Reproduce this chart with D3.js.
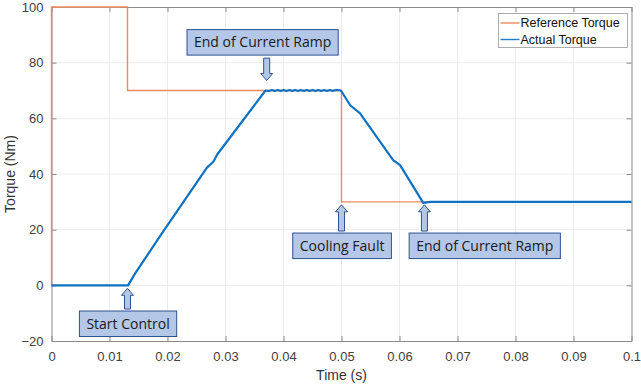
<!DOCTYPE html>
<html>
<head>
<meta charset="utf-8">
<script src="https://cdn.jsdelivr.net/npm/d3@7"></script>
<style>
  body { margin: 0; background: #fff; }
  svg { display: block; }
  .tick text { font-family: "Liberation Sans", Arial, sans-serif; font-size: 13px; fill: #404040; }
  .note text { font-family: "Open Sans", sans-serif; font-size: 14px; fill: #1a1a1a; }
</style>
</head>
<body>
<svg id="chart" width="641" height="390"></svg>
<script>
// reference torque (step changes)
const refTime   = [0, 0, 0.0131, 0.0131, 0.05, 0.05, 0.1];
const refTorque = [0, 100, 100, 70, 70, 30, 30];

const actTime   = [0, 0.0132, 0.0144, 0.0193, 0.0268, 0.0279, 0.0286, 0.0369,
                   0.0375, 0.038, 0.0385, 0.039, 0.0395, 0.040, 0.0405, 0.041, 0.0415, 0.042, 0.0425, 0.043,
                   0.0435, 0.044, 0.0445, 0.045, 0.0455, 0.046, 0.0465, 0.047, 0.0475, 0.048, 0.0485, 0.049, 0.0499,
                   0.0515, 0.0532, 0.0589, 0.0601, 0.0641, 0.0653, 0.08, 0.1];
const actTorque = [0, 0, 4.2, 19.5, 42.3, 44.4, 47.1, 70,
                   69.8, 70.2, 69.8, 70.2, 69.8, 70.2, 69.8, 70.2, 69.8, 70.2, 69.8, 70.2,
                   69.8, 70.2, 69.8, 70.2, 69.8, 70.2, 69.8, 70.2, 69.8, 70.2, 69.8, 70.2, 70,
                   64.7, 61.8, 45, 43.2, 29.6, 30, 30, 30];

const xTicks = [0, 0.01, 0.02, 0.03, 0.04, 0.05, 0.06, 0.07, 0.08, 0.09, 0.1];
const yTicks = [-20, 0, 20, 40, 60, 80, 100];

// annotation callouts: label, arrow anchor (data), box centre (data)
const notes = [
  { label: "End of Current Ramp", t: 0.0371, v: 70, bt: 0.0364, bv: 87.3, dir: "down" },
  { label: "Start Control",       t: 0.0131, v: 0,  bt: 0.0132, bv: -13.8, dir: "up" },
  { label: "Cooling Fault",       t: 0.05,   v: 30, bt: 0.0501, bv: 14.2, dir: "up" },
  { label: "End of Current Ramp", t: 0.0643, v: 30, bt: 0.0747, bv: 14.2, dir: "up" }
];

const svg = d3.select('#chart');
const margin = { top: 7, right: 9.5, bottom: 49, left: 51.5 };
const width = 641 - margin.left - margin.right;
const height = 390 - margin.top - margin.bottom;

const g = svg.append('g').attr('transform', `translate(${margin.left},${margin.top})`);

const x = d3.scaleLinear().domain([0, 0.1]).range([0, width]);
const y = d3.scaleLinear().domain([-20, 100]).range([height, 0]);

// grid
g.append('g').selectAll('line').data(xTicks.slice(1, -1)).join('line')
    .attr('x1', d => x(d)).attr('x2', d => x(d))
    .attr('y1', 0).attr('y2', height)
    .attr('stroke', '#ececec').attr('stroke-width', 1);
g.append('g').selectAll('line').data(yTicks.slice(1, -1)).join('line')
    .attr('x1', 0).attr('x2', width)
    .attr('y1', d => y(d)).attr('y2', d => y(d))
    .attr('stroke', '#ececec').attr('stroke-width', 1);

// axes (inward ticks, box on)
const axisColor = '#8a8a8a';
const xAxis = g.append('g').attr('transform', `translate(0,${height})`)
    .call(d3.axisBottom(x).tickValues(xTicks).tickSizeInner(-5).tickSizeOuter(0).tickPadding(13)
      .tickFormat(d => d === 0 ? '0' : d3.format('.2~f')(d)));
const yAxis = g.append('g')
    .call(d3.axisLeft(y).tickValues(yTicks).tickSizeInner(-5).tickSizeOuter(0).tickPadding(8));
g.append('g').call(d3.axisTop(x).tickValues(xTicks).tickSizeInner(-5).tickSizeOuter(0).tickFormat(''));
g.append('g').attr('transform', `translate(${width},0)`)
    .call(d3.axisRight(y).tickValues(yTicks).tickSizeInner(-5).tickSizeOuter(0).tickFormat(''));
g.selectAll('.domain, .tick line').attr('stroke', axisColor);
xAxis.selectAll('.tick text').attr('dy', '0.5em');

// axis titles
g.append('text')
    .attr('x', width / 2).attr('y', height + 39)
    .attr('text-anchor', 'middle')
    .style('font-family', '"Liberation Sans", Arial, sans-serif').style('font-size', '14px').style('fill', '#333')
    .text('Time (s)');
g.append('text')
    .attr('transform', `translate(-37,${height / 2}) rotate(-90)`)
    .attr('text-anchor', 'middle')
    .style('font-family', '"Liberation Sans", Arial, sans-serif').style('font-size', '14px').style('fill', '#333')
    .text('Torque (Nm)');

// series
const line = d3.line().x(d => x(d[0])).y(d => y(d[1]));
const refData = refTime.map((t, i) => [t, refTorque[i]]);
const actData = actTime.map((t, i) => [t, actTorque[i]]);

g.append('path').datum(refData)
    .attr('d', line).attr('fill', 'none')
    .attr('stroke', '#EE8A5E').attr('stroke-width', 1.4);
g.append('path').datum(actData)
    .attr('d', line).attr('fill', 'none')
    .attr('stroke', '#0F72C0').attr('stroke-width', 2.2).attr('stroke-linejoin', 'round');

// legend
const leg = g.append('g').attr('transform', `translate(${width - 133},6.5)`);
leg.append('rect').attr('width', 129).attr('height', 34)
    .attr('fill', '#fff').attr('stroke', '#9a9a9a').attr('stroke-width', 0.8);
[['Reference Torque', '#EE8A5E'], ['Actual Torque', '#1f7fd0']].forEach((d, i) => {
  const yy = 9.5 + i * 16.5;
  leg.append('line').attr('x1', 2).attr('x2', 21).attr('y1', yy).attr('y2', yy)
      .attr('stroke', d[1]).attr('stroke-width', 1.4);
  leg.append('text').attr('x', 22).attr('y', yy).attr('dy', '0.35em')
      .style('font-family', '"Liberation Sans", Arial, sans-serif').style('font-size', '12.5px').style('fill', '#111')
      .text(d[0]);
});

// callouts
const boxFill = '#b4c7e7', boxStroke = '#2f528f';
const nG = g.append('g').attr('class', 'note');
notes.forEach(n => {
  const cx = x(n.bt), cy = y(n.bv);
  const t = nG.append('text').attr('x', cx).attr('y', cy).attr('dy', '0.35em')
      .attr('text-anchor', 'middle').text(n.label);
  const w = t.node().getComputedTextLength() + 14, h = 25.5;
  nG.insert('rect', 'text').attr('x', cx - w / 2).attr('y', cy - h / 2)
      .attr('width', w).attr('height', h)
      .attr('fill', boxFill).attr('stroke', boxStroke).attr('stroke-width', 1);
  // block arrow
  const ax = x(n.t);
  const sw = 3, hw = 6, hl = 7;
  let tip, base;
  if (n.dir === 'up') { tip = y(n.v) + 3; base = cy - h / 2 - 2; }
  else { tip = y(n.v) - 10; base = cy + h / 2 + 3; }
  const s = n.dir === 'up' ? 1 : -1;
  const pts = [[ax, tip], [ax + hw, tip + s * hl], [ax + sw, tip + s * hl], [ax + sw, base],
               [ax - sw, base], [ax - sw, tip + s * hl], [ax - hw, tip + s * hl]];
  nG.append('path').attr('d', 'M' + pts.join('L') + 'Z')
      .attr('fill', boxFill).attr('stroke', boxStroke).attr('stroke-width', 1);
});
</script>
</body>
</html>
